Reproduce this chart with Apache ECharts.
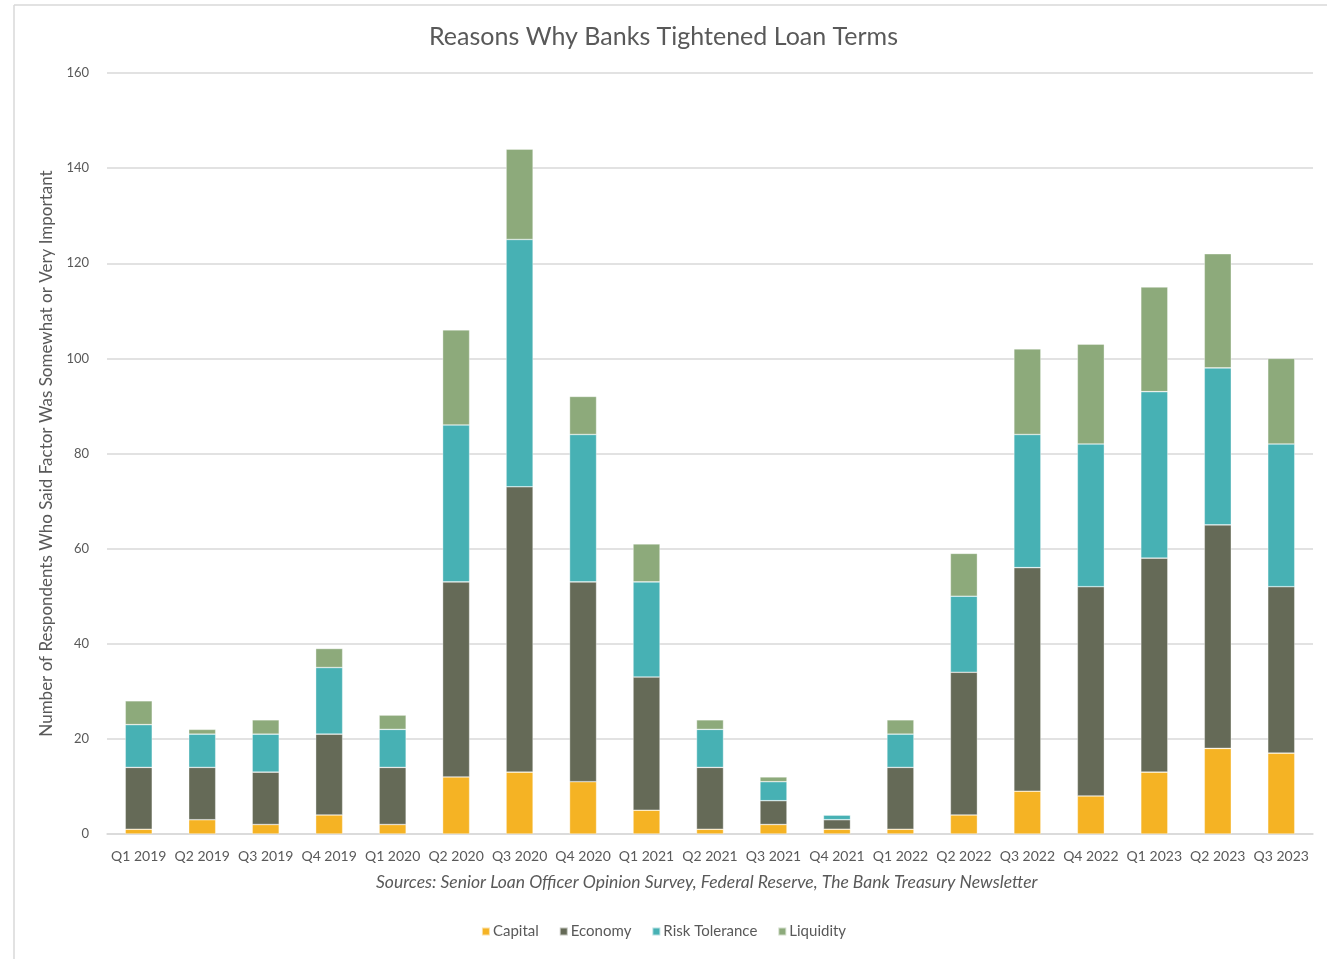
<!DOCTYPE html>
<html>
<head>
<meta charset="utf-8">
<script src="https://cdn.jsdelivr.net/npm/echarts@6/dist/echarts.min.js"></script>
<style>
  html, body { margin: 0; padding: 0; background: #fff; }
  #main { width: 1327px; height: 959px; }
</style>
</head>
<body>
<div id="main"></div>
<script>
// quarters on the x axis
var quarters = ['Q1 2019', 'Q2 2019', 'Q3 2019', 'Q4 2019', 'Q1 2020', 'Q2 2020', 'Q3 2020', 'Q4 2020',
  'Q1 2021', 'Q2 2021', 'Q3 2021', 'Q4 2021', 'Q1 2022', 'Q2 2022', 'Q3 2022', 'Q4 2022',
  'Q1 2023', 'Q2 2023', 'Q3 2023']
var capital = [1, 3, 2, 4, 2, 12, 13, 11, 5, 1, 2, 1, 1, 4, 9, 8, 13, 18, 17]
var economy = [13, 11, 11, 17, 12, 41, 60, 42, 28, 13, 5, 2, 13, 30, 47, 44, 45, 47, 35]
var riskTolerance = [9, 7, 8, 14, 8, 33, 52, 31, 20, 8, 4, 1, 7, 16, 28, 30, 35, 33, 30]
var liquidity = [5, 1, 3, 4, 3, 20, 19, 8, 8, 2, 1, 0, 3, 9, 18, 21, 22, 24, 18]

var font = 'Lato'
var textColor = '#595959'

function makeSeries(name, data, color) {
  return {
    name: name,
    type: 'bar',
    stack: 'total',
    barWidth: 27,
    data: data,
    itemStyle: {
      color: color,
      borderColor: 'rgba(255,255,255,0.6)',
      borderWidth: 0.6,
    },
  }
}

var myChart = echarts.init(document.getElementById('main'))
myChart.setOption({
  animation: false,
  color: ['#F5B324', '#656A57', '#47B1B4', '#8DAA7B'],
  title: {
    text: 'Reasons Why Banks Tightened Loan Terms',
    left: 'center',
    top: 19,
    textStyle: {
      color: textColor,
      fontFamily: font,
      fontWeight: 'normal',
      fontSize: 25,
    },
  },
  legend: {
    data: ['Capital', 'Economy', 'Risk Tolerance', 'Liquidity'],
    bottom: 15,
    left: 'center',
    itemWidth: 8,
    itemHeight: 8,
    itemGap: 20,
    icon: 'rect',
    textStyle: {
      color: textColor,
      fontFamily: font,
      fontSize: 15,
      padding: [0, 0, 0, -2],
    },
  },
  grid: {
    left: 107,
    right: 14,
    top: 73,
    bottom: 125,
  },
  xAxis: {
    type: 'category',
    data: quarters,
    axisTick: { show: false },
    axisLine: { lineStyle: { color: '#D9D9D9', width: 1.5 } },
    axisLabel: {
      interval: 0,
      color: textColor,
      fontFamily: font,
      fontSize: 14,
      margin: 15,
    },
  },
  yAxis: {
    type: 'value',
    min: 0,
    max: 160,
    interval: 20,
    name: 'Number of Respondents Who Said Factor Was Somewhat or Very Important',
    nameLocation: 'middle',
    nameGap: 52,
    nameTextStyle: {
      color: textColor,
      fontFamily: font,
      fontSize: 17,
    },
    axisLine: { show: false },
    axisTick: { show: false },
    axisLabel: {
      color: textColor,
      fontFamily: font,
      fontSize: 13,
      margin: 18,
    },
    splitLine: { lineStyle: { color: '#D9D9D9', width: 1.5 } },
  },
  graphic: [
    {
      type: 'text',
      left: 376,
      top: 873,
      style: {
        text: 'Sources: Senior Loan Officer Opinion Survey, Federal Reserve, The Bank Treasury Newsletter',
        fill: textColor,
        font: 'italic 17.5px Lato',
      },
    },
    {
      type: 'line',
      shape: { x1: 14, y1: 5, x2: 1327, y2: 5 },
      style: { stroke: '#D9D9D9', lineWidth: 1.5 },
    },
    {
      type: 'line',
      shape: { x1: 14, y1: 5, x2: 14, y2: 959 },
      style: { stroke: '#D9D9D9', lineWidth: 1.5 },
    },
  ],
  series: [
    makeSeries('Capital', capital, '#F5B324'),
    makeSeries('Economy', economy, '#656A57'),
    makeSeries('Risk Tolerance', riskTolerance, '#47B1B4'),
    makeSeries('Liquidity', liquidity, '#8DAA7B'),
  ],
})
</script>
</body>
</html>
